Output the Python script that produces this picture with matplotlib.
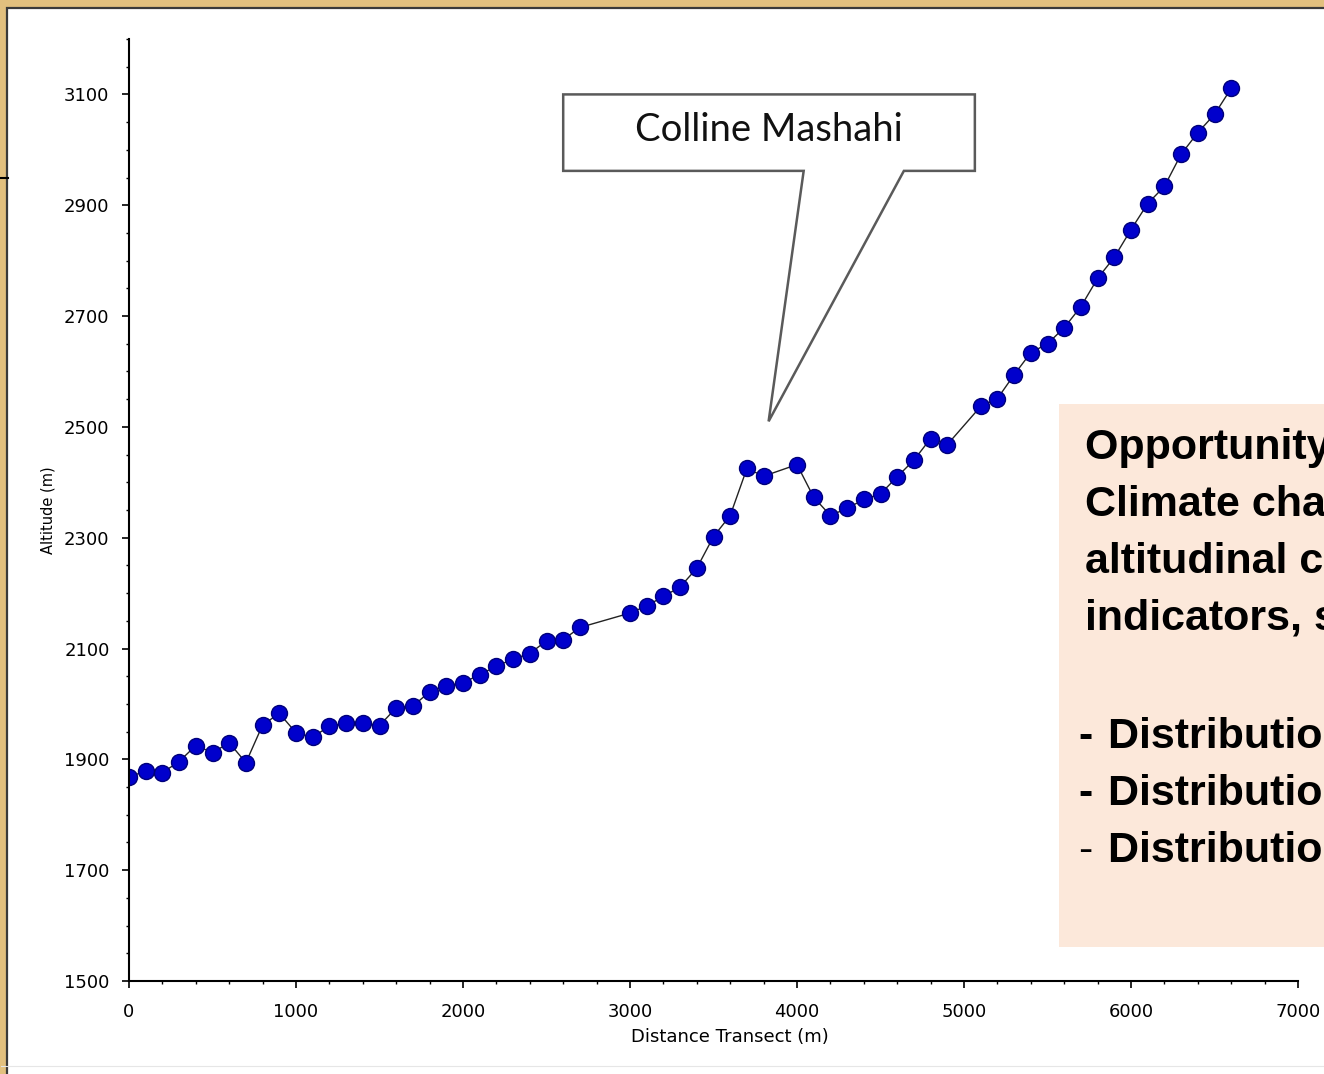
import numpy as np
import matplotlib
matplotlib.use("Agg")
import matplotlib.pyplot as plt
from matplotlib.patches import Rectangle, Polygon
from matplotlib.lines import Line2D
from matplotlib.ticker import FixedLocator, MultipleLocator

# transect profile
dist = [0, 100, 200, 300, 400, 500, 600, 700, 800, 900, 1000, 1100, 1200, 1300,
        1400, 1500, 1600, 1700, 1800, 1900, 2000, 2100, 2200, 2300, 2400, 2500,
        2600, 2700, 3000, 3100, 3200, 3300, 3400, 3500, 3600, 3700, 3800, 4000,
        4100, 4200, 4300, 4400, 4500, 4600, 4700, 4800, 4900, 5100, 5200, 5300,
        5400, 5500, 5600, 5700, 5800, 5900, 6000, 6100, 6200, 6300, 6400, 6500,
        6600]
alt = [1868, 1879, 1876, 1896, 1925, 1912, 1930, 1894, 1962, 1983, 1948, 1940,
       1960, 1965, 1966, 1961, 1993, 1996, 2022, 2033, 2038, 2053, 2068, 2081,
       2091, 2114, 2116, 2138, 2164, 2177, 2194, 2211, 2245, 2302, 2340, 2425,
       2411, 2432, 2373, 2340, 2353, 2369, 2379, 2410, 2440, 2479, 2468, 2537,
       2551, 2594, 2634, 2650, 2679, 2717, 2768, 2806, 2856, 2903, 2934, 2992,
       3031, 3064, 3111]

yticks = [1500, 1700, 1900, 2100, 2300, 2500, 2700, 2900, 3100]
xticks = [0, 1000, 2000, 3000, 4000, 5000, 6000, 7000]

callout = "Colline Mashahi"
box_lines = ["Opportunity to monitor",
             "Climate change along",
             "altitudinal changes using",
             "indicators, such as:",
             "Distribution of plants",
             "Distribution of birds",
             "Distribution of insects"]

W, H = 1324, 1074
fig = plt.figure(figsize=(W / 100, H / 100), dpi=100)
fig.patch.set_facecolor('#E2C07E')

def fx(px):
    return px / W

def fy(py):
    return 1 - py / H

# white slide panel with dark frame (behind the axes)
fig.patches.append(Rectangle((fx(7), fy(1090)), fx(1340) - fx(7), fy(8) - fy(1090),
                             transform=fig.transFigure, facecolor='white',
                             edgecolor='#3a3a3a', lw=1.6, zorder=-5))
fig.lines.append(Line2D([fx(1), fx(1330)], [fy(1066), fy(1066)],
                        transform=fig.transFigure, color='#e6e6e6', lw=0.8, zorder=-4))
fig.lines.append(Line2D([0, fx(8)], [fy(178), fy(178)],
                        transform=fig.transFigure, color='black', lw=1.5))

ax = fig.add_axes([fx(129), fy(981), fx(1298) - fx(129), fy(39) - fy(981)])
ax.set_facecolor('none')
ax.plot(dist, alt, color='#222222', lw=1.0, marker='o', ms=11.5,
        markerfacecolor='#0000CC', markeredgecolor='#00007A', markeredgewidth=1.0)

ax.set_xlim(0, 7000)
ax.set_ylim(1500, 3200)
for s in ['top', 'right']:
    ax.spines[s].set_visible(False)
for s in ['left', 'bottom']:
    ax.spines[s].set_linewidth(1.5)
    ax.spines[s].set_color('black')

ax.yaxis.set_major_locator(FixedLocator(yticks))
ax.yaxis.set_minor_locator(MultipleLocator(50))
ax.xaxis.set_major_locator(FixedLocator(xticks))
ax.xaxis.set_minor_locator(MultipleLocator(200))
ax.tick_params(which='major', length=5, width=1.2, direction='out', labelsize=13)
ax.tick_params(which='minor', length=2.5, width=1.0, direction='out')
ax.tick_params(axis='y', which='major', pad=9)
ax.tick_params(axis='x', which='major', pad=11)

ax.set_xlabel('Distance Transect (m)', fontsize=13)
ax.xaxis.set_label_coords((730 - 129) / 1169, -(1028 - 981) / 942)
ax.set_ylabel('Altitude (m)', fontsize=10.5, va='center')
ax.yaxis.set_label_coords(-(129 - 48) / 1169, 0.5)

# callout with tail pointing at the hill
bx0, bx1, by0, by1 = 2600, 5065, 2962, 3100
tail = [(bx0, by1), (bx1, by1), (bx1, by0), (4640, by0), (3830, 2510),
        (4040, by0), (bx0, by0)]
ax.add_patch(Polygon(tail, closed=True, facecolor='white', edgecolor='#5a5a5a',
                     lw=1.8, clip_on=False, zorder=5))
ax.text((bx0 + bx1) / 2, 3036, callout, fontsize=27.5, family='Lato',
        ha='center', va='center', color='#111111', zorder=6)

# peach text box on the right (cut by the slide edge)
fig.patches.append(Rectangle((fx(1059), fy(947)), fx(1340) - fx(1059), fy(404) - fy(947),
                             transform=fig.transFigure, facecolor='#FCE8DA',
                             edgecolor='none', zorder=3))
tkw = dict(fontsize=31, fontweight='bold', family='Liberation Sans',
           va='baseline', ha='left', color='black', zorder=4)
base = [459, 516, 573, 630]
for yy, line in zip(base, box_lines[:4]):
    fig.text(fx(1085), fy(yy), line, **tkw)
for yy, line in zip([748, 805, 862], box_lines[4:]):
    fig.text(fx(1108), fy(yy), line, **tkw)
for yy, wt in zip([748, 805, 862], ['bold', 'bold', 'normal']):
    fig.text(fx(1078), fy(yy), '-', fontsize=31, fontweight=wt,
             family='Liberation Sans', va='baseline', ha='left', zorder=4)

fig.savefig('out.png', dpi=100, facecolor=fig.get_facecolor())
